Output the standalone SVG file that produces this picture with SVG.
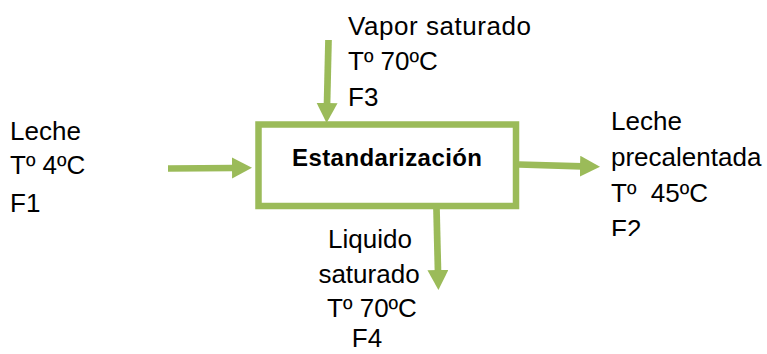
<svg xmlns="http://www.w3.org/2000/svg" width="767" height="354" viewBox="0 0 767 354">
<style>
.lbl{font-family:"Liberation Sans",Arial,sans-serif;font-size:26px;fill:#000}
.ttl{font-family:"Liberation Sans",Arial,sans-serif;font-size:24px;font-weight:bold;fill:#000}
.box{fill:#fff;stroke:#9BBB59;stroke-width:6.5}
.arr{fill:none;stroke:#9BBB59;stroke-width:6.7;marker-end:url(#head)}
</style>
<defs>
<marker id="head" markerUnits="userSpaceOnUse" markerWidth="22" markerHeight="22" refX="2" refY="10.5" orient="auto">
<path d="M0,0 L20,10.5 L0,21 Z" fill="#9BBB59"/>
</marker>
<clipPath id="clipF2"><rect x="600" y="100" width="167" height="136"/></clipPath>
</defs>
<rect width="767" height="354" fill="#fff"/>
<g id="connectors">
<path class="arr" d="M328.5,40 L327,105"/>
<path class="arr" d="M168,168.5 L234,168"/>
<path class="arr" d="M519,164.5 L582,166.3"/>
<path class="arr" d="M436.5,209 L438,272"/>
</g>
<g id="node-estandarizacion">
<rect class="box" x="258.5" y="124.5" width="257.5" height="81.5"/>
<text class="ttl" x="387" y="166" text-anchor="middle" textLength="190">Estandarización</text>
</g>
<g id="label-vapor">
<text class="lbl" x="348" y="35" textLength="183">Vapor saturado</text>
<text class="lbl" x="348" y="70">Tº 70ºC</text>
<text class="lbl" x="348" y="106">F3</text>
</g>
<g id="label-leche-in">
<text class="lbl" x="10" y="140">Leche</text>
<text class="lbl" x="10" y="174">Tº 4ºC</text>
<text class="lbl" x="10" y="212">F1</text>
</g>
<g id="label-leche-out" clip-path="url(#clipF2)">
<text class="lbl" x="611" y="130">Leche</text>
<text class="lbl" x="611" y="166">precalentada</text>
<text class="lbl" x="611" y="202" xml:space="preserve">Tº  45ºC</text>
<text class="lbl" x="611" y="238">F2</text>
</g>
<g id="label-liquido">
<text class="lbl" x="370" y="248" text-anchor="middle">Liquido</text>
<text class="lbl" x="369" y="283" text-anchor="middle">saturado</text>
<text class="lbl" x="372" y="317" text-anchor="middle">Tº 70ºC</text>
<text class="lbl" x="367" y="347" text-anchor="middle">F4</text>
</g>
</svg>
